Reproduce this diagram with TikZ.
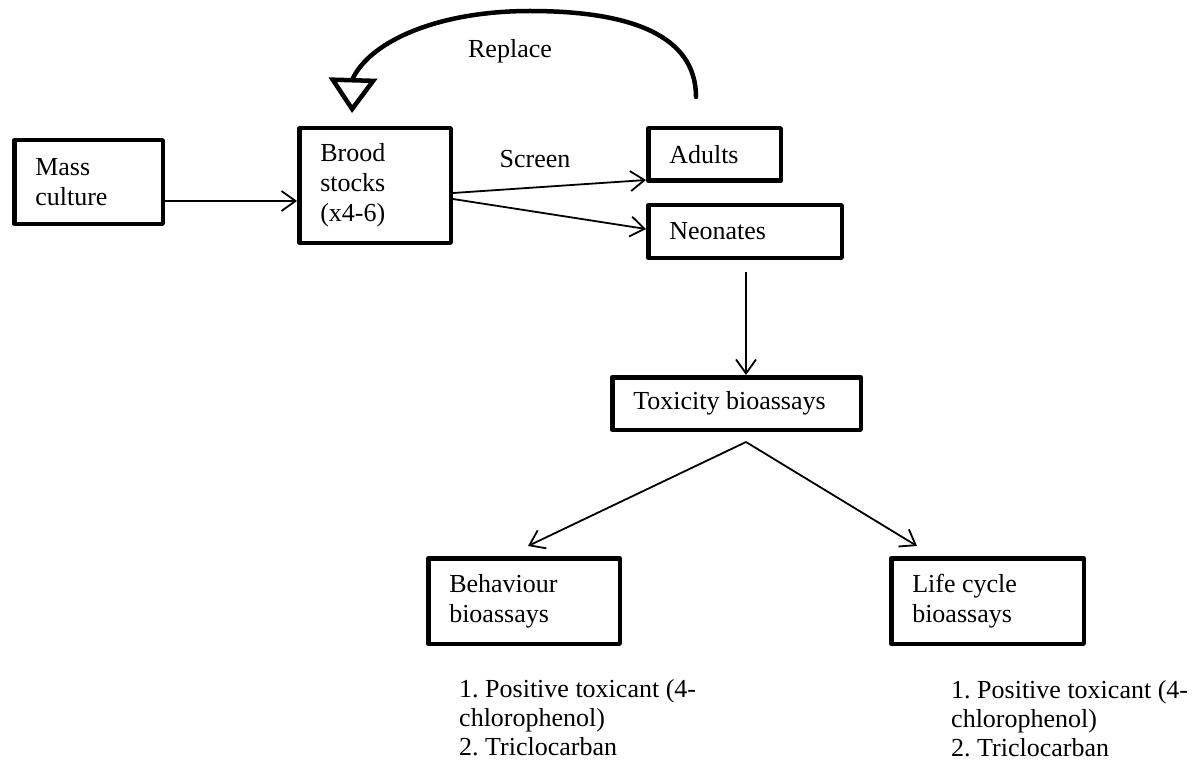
\documentclass[tikz,border=0pt]{standalone}
\usepackage{fontspec}
\setmainfont{Liberation Serif}
\usetikzlibrary{arrows.meta,calc}
\frenchspacing
\begin{document}
\begin{tikzpicture}[x=1pt,y=-1pt,
  box/.style={draw, line width=4.5pt, line join=round, rectangle,
    inner xsep=21pt, inner ysep=0pt, align=flush left,
    font=\fontsize{26}{30}\selectfont},
  flow/.style={line width=1.8pt, -{Straight Barb[length=14pt,width=20pt]}},
  loopback/.style={line width=4.5pt, line cap=round, line join=round,
    -{Triangle[open,length=35pt,width=48pt]}},
  lbl/.style={font=\fontsize{26}{30}\selectfont, inner sep=0pt, anchor=base},
  listtext/.style={font=\fontsize{26}{29}\selectfont, inner sep=0pt, anchor=base west}]

  % canvas
  \fill[white] (0,0) rectangle (1196,762);
  \path[use as bounding box] (0,0) rectangle (1196,762);

  % boxes
  \node[box, minimum width=148.5pt, minimum height=83.5pt, text width=106.5pt]
    (mass) at (88.5,182) {Mass\\culture};
  \node[box, minimum width=151.5pt, minimum height=114.5pt, text width=109.5pt]
    (brood) at (375,185.5) {Brood\\stocks\\(x4-6)};
  \node[box, minimum width=132.5pt, minimum height=52.5pt, text width=90.5pt]
    (adults) at (714.5,154.5) {Adults};
  \node[box, minimum width=193.5pt, minimum height=52.5pt, text width=151.5pt]
    (neo) at (745,231.5) {Neonates};
  \node[box, minimum width=248.5pt, minimum height=52.5pt, text width=206.5pt]
    (tox) at (736.5,403.5) {Toxicity bioassays};
  \node[box, minimum width=191.5pt, minimum height=85.5pt, text width=149.5pt]
    (beh) at (524,601) {Behaviour\\bioassays};
  \node[box, minimum width=192.5pt, minimum height=85.5pt, text width=150.5pt]
    (life) at (987.5,601) {Life cycle\\bioassays};

  % labels
  \node[lbl] (screen) at (535,168) {Screen};
  \node[lbl] (replace) at (510,58) {Replace};

  % compound lists
  \node[listtext] (beh-list) at (459,697)
    {\begin{tabular}[t]{@{}l@{}}1. Positive toxicant (4-\\chlorophenol)\\2. Triclocarban\end{tabular}};
  \node[listtext] (life-list) at (951,698.5)
    {\begin{tabular}[t]{@{}l@{}}1. Positive toxicant (4-\\chlorophenol)\\2. Triclocarban\end{tabular}};

  % flow connectors
  \draw[flow] ($(mass.east)+(0,19)$) -- ($(brood.west)+(0,15.5)$);
  \draw[flow] ($(brood.east)+(0,7.5)$) -- ($(adults.south west)+(0,-3)$);
  \draw[flow] ($(brood.east)+(0,13.5)$) -- ($(neo.west)+(0,-2.5)$);

  \coordinate (n-out) at ($(neo.south)+(1,12)$);
  \draw[flow] (n-out) -- (n-out |- tox.north);

  \coordinate (fork) at ($(tox.south)+(9.5,10)$);
  \draw[flow] (fork) -- ($(beh.north)+(4,-10)$);
  \draw[flow] (fork) -- ($(life.north west)+(28,-10)$);

  % replacement loop from adults back to brood stocks
  \coordinate (ret) at ($(adults.north)+(-18.5,-29)$);
  \coordinate (ret-top) at (530,11);
  \coordinate (ret-end) at ($(brood.north)+(-23,-13)$);
  \coordinate (ret-base) at ($(ret-end)+(1,-35)$);
  \draw[loopback] (ret) .. controls ($(ret)+(0,-62)$) and (630,11) .. (ret-top)
    .. controls (440,11) and (372,40) .. (ret-base) -- (ret-end);
\end{tikzpicture}
\end{document}
